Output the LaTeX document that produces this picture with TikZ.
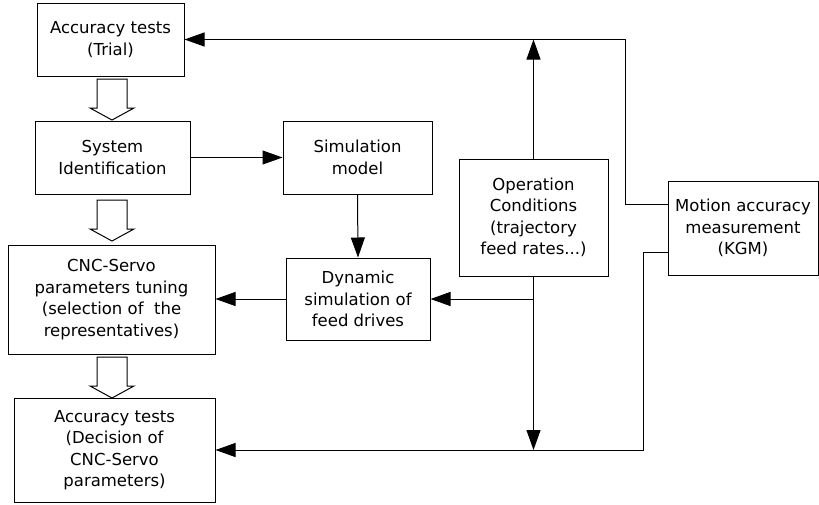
\documentclass[tikz,border=0pt]{standalone}
\usepackage{fontspec}
\setmainfont{DejaVu Sans}
\usetikzlibrary{arrows.meta}
\begin{document}
\begin{tikzpicture}[x=1pt,y=-1pt,
  box/.style={draw=black,line width=1pt,rectangle,inner sep=0pt,align=center,
    font=\fontsize{16.5}{21.5}\selectfont},
  conn/.style={line width=1pt,draw=black},
  arr/.style={conn,-{Triangle[length=20pt,width=14pt]}},
  hollow/.pic={\draw[line width=1pt] (-15,0) -- (15,0) -- (15,29) -- (22,29) -- (0,41) -- (-22,29) -- (-15,29) -- cycle;}
]
\useasboundingbox (0,0) rectangle (819,504);
\node[box,minimum width=147pt,minimum height=73pt] (b1) at (110.5,39.5) {Accuracy tests\\(Trial)};
\node[box,minimum width=155pt,minimum height=73pt] (b2) at (112.5,157.5) {System\\Identification};
\node[box,minimum width=207pt,minimum height=109pt] (b3) at (111.5,299.5) {CNC-Servo\\parameters tuning\\(selection of~ the\\representatives)};
\node[box,minimum width=201pt,minimum height=104pt] (b4) at (114.5,450) {Accuracy tests\\(Decision of\\CNC-Servo\\parameters)};
\node[box,minimum width=149pt,minimum height=73pt] (sim) at (357.5,157.5) {Simulation\\model};
\node[box,minimum width=144pt,minimum height=82pt] (dyn) at (358,299) {Dynamic\\simulation of\\feed drives};
\node[box,minimum width=149pt,minimum height=117pt] (op) at (533.5,217.5) {Operation\\Conditions\\(trajectory\\feed rates...)};
\node[box,minimum width=150pt,minimum height=94pt] (kgm) at (743,228) {Motion accuracy\\measurement\\(KGM)};

\pic at (112,79) {hollow};
\pic at (112,200) {hollow};
\pic at (112,357) {hollow};

\coordinate (top) at (625,0);
\coordinate (rv) at (643,0);
\coordinate (k1) at ([yshift=24pt]kgm.west);
\coordinate (k2) at ([yshift=-24pt]kgm.west);
\draw[arr] (b2.east) -- (sim.west);
\draw[arr] (sim.south) -- (dyn.north);
\draw[arr] (dyn.west) -- (b3.east |- dyn.west);
\draw[arr] (op.north) -- (op.north |- b1.east);
\draw[arr] (k1) -- (top |- k1) -- (top |- b1.east) -- (b1.east);
\draw[arr] (op.south) -- (op.south |- b4.east);
\draw[arr] (op.south |- dyn.east) -- (dyn.east);
\draw[arr] (k2) -- (rv |- k2) -- (rv |- b4.east) -- (b4.east);
\end{tikzpicture}
\end{document}
